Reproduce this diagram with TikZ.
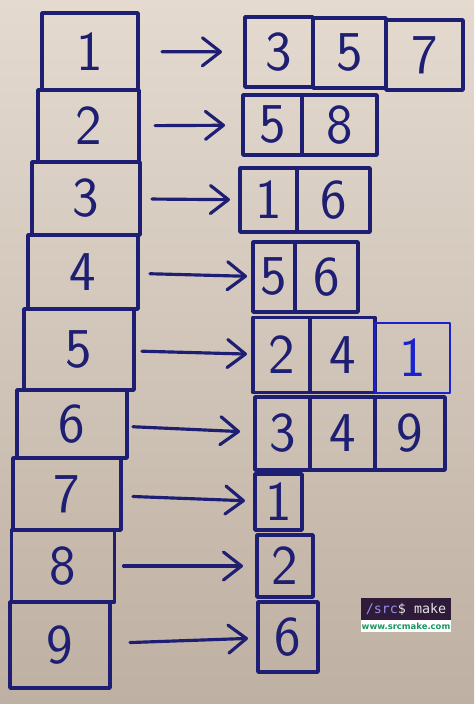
\documentclass[tikz,border=0pt]{standalone}
\usepackage{fontspec}
\usepackage{xcolor}
\usepackage{tikz}
\usetikzlibrary{arrows.meta,positioning}
\newfontfamily\monofont{DejaVu Sans Mono}
\newfontfamily\webfont{DejaVu Sans}
\definecolor{ink}{RGB}{30,30,115}
\definecolor{pen}{RGB}{25,35,205}
\definecolor{paper}{RGB}{228,218,208}
\definecolor{paperdark}{RGB}{190,176,162}
\definecolor{termbg}{RGB}{48,26,58}
\definecolor{termblue}{RGB}{145,145,230}
\definecolor{webgreen}{RGB}{25,150,95}
\tikzset{
	slot/.style={draw=ink, line width=5pt, line join=round, inner sep=0pt, outer sep=0pt, text=ink, font=\sffamily\fontsize{80}{80}\selectfont},
	cell/.style={slot},
	link/.style={draw=ink, line width=4.5pt, line cap=round, -{Straight Barb[length=0.9cm, width=1.4cm, line cap=round, line join=round]}},
}

\begin{document}
\begin{tikzpicture}[x=0.05cm, y=-0.05cm]
	\shade[top color=paper, bottom color=paperdark] (0,0) rectangle (474,704);
	\useasboundingbox (0,0) rectangle (474,704);
	
	\node[slot, minimum width=4.8cm, minimum height=3.85cm] (l1) at (90,51.5) {1};
	\node[slot, minimum width=5.05cm, minimum height=3.6cm] (l2) at (88.5,126) {2};
	\node[slot, minimum width=5.4cm, minimum height=3.65cm] (l3) at (86,198.5) {3};
	\node[slot, minimum width=5.5cm, minimum height=3.7cm] (l4) at (83,272) {4};
	\node[slot, minimum width=5.5cm, minimum height=4.05cm] (l5) at (79,349.5) {5};
	\node[slot, minimum width=5.5cm, minimum height=3.4cm] (l6) at (72,424) {6};
	\node[slot, minimum width=5.4cm, minimum height=3.6cm] (l7) at (67,494) {7};
	\node[slot, minimum width=5.15cm, minimum height=3.6cm] (l8) at (63,566) {8};
	\node[slot, minimum width=5cm, minimum height=4.3cm] (l9) at (60,645) {9};
	
	\node[cell, minimum width=3.4cm, minimum height=3.5cm] (r1a) at (279,52) {3};
	\node[cell, minimum width=3.65cm, minimum height=3.5cm] (r1b) at (349.5,53) {5};
	\node[cell, minimum width=3.85cm, minimum height=3.5cm] (r1c) at (424.5,55) {7};
	
	\node[cell, minimum width=2.95cm, minimum height=3cm] (r2a) at (272.5,125) {5};
	\node[cell, minimum width=3.75cm, minimum height=3cm] (r2b) at (339.5,125) {8};
	
	\node[cell, minimum width=2.85cm, minimum height=3.2cm] (r3a) at (268.5,200) {1};
	\node[cell, minimum width=3.65cm, minimum height=3.2cm] (r3b) at (333.5,200) {6};
	
	\node[cell, minimum width=2.1cm, minimum height=3.5cm] (r4a) at (274,277) {5};
	\node[cell, minimum width=3.15cm, minimum height=3.5cm] (r4b) at (326.5,277) {6};
	
	\node[cell, minimum width=2.85cm, minimum height=3.75cm] (r5a) at (281.5,355) {2};
	\node[cell, minimum width=3.25cm, minimum height=3.75cm] (r5b) at (342.5,355) {4};
	\node[cell, draw=pen, text=pen, line width=2pt, minimum width=3.75cm, minimum height=3.5cm] (r5c) at (412.5,358) {1};
	
	\node[cell, minimum width=2.75cm, minimum height=3.65cm] (r6a) at (282.5,433.5) {3};
	\node[cell, minimum width=3.25cm, minimum height=3.65cm] (r6b) at (342.5,433.5) {4};
	\node[cell, minimum width=3.5cm, minimum height=3.65cm] (r6c) at (410,433.5) {9};
	
	\node[cell, minimum width=2.35cm, minimum height=2.8cm] (r7a) at (278.5,502) {1};
	\node[cell, minimum width=2.8cm, minimum height=3.1cm] (r8a) at (285,566) {2};
	\node[cell, minimum width=3cm, minimum height=3.5cm] (r9a) at (288,637) {6};
	
	\draw[link, shorten <=1.2cm, shorten >=1.15cm] (l1) -- (r1a);
	\draw[link, shorten <=0.8cm, shorten >=0.9cm] (l2) -- (r2a);
	\draw[link, shorten <=0.6cm, shorten >=0.5cm] (l3) -- (r3a);
	\draw[link, shorten <=0.6cm, shorten >=0.3cm] (l4) -- (r4a);
	\draw[link, shorten <=0.4cm, shorten >=0.3cm] (l5) -- (r5a);
	\draw[link, shorten <=0.3cm, shorten >=0.75cm] (l6) -- (r6a);
	\draw[link, shorten <=0.6cm, shorten >=0.5cm] (l7) -- (r7a);
	\draw[link, shorten <=0.45cm, shorten >=0.7cm] (l8) -- (r8a);
	\draw[link, shorten <=1cm, shorten >=0.5cm] (l9) -- (r9a);
	
	\node[fill=termbg, minimum width=4.5cm, minimum height=1.1cm, inner sep=0pt] (term) at (406,609) {\monofont\fontsize{19}{19}\selectfont\textcolor{termblue}{/src}\textcolor{white!90!black}{\$ make}};
	\node[fill=white, minimum width=4.5cm, minimum height=0.6cm, inner sep=0pt, below=0pt of term] (site) {\webfont\bfseries\fontsize{12}{12}\selectfont\textcolor{webgreen}{www.srcmake.com}};
\end{tikzpicture}
\end{document}
